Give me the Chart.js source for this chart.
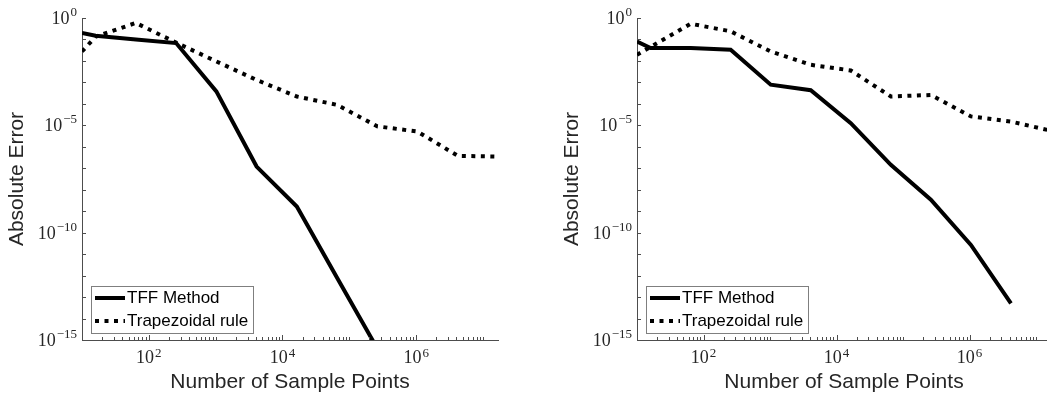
<!DOCTYPE html>
<html>
<head>
<meta charset="utf-8">
<script src="https://cdn.jsdelivr.net/npm/chart.js@4.4.0/dist/chart.umd.min.js"></script>
<style>
  html, body { margin: 0; padding: 0; background: #fff; overflow: hidden; width: 1047px; height: 399px; }
  .plot { position: absolute; top: 0; width: 520px; height: 399px; }
</style>
</head>
<body>
<div class="plot" style="left:0"><canvas id="leftChart" width="520" height="399"></canvas></div>
<div class="plot" style="left:555px"><canvas id="rightChart" width="520" height="399"></canvas></div>
<script>
// sample counts (powers of four) shared by both panels
const samplePoints = [10, 16, 64, 256, 1024, 4096, 16384, 65536, 262144, 1048576, 4194304, 16777216];
const seriesNames = ["TFF Method", "Trapezoidal rule"];

// left panel errors
const leftTFF = [0.2, 0.148, 0.1, 0.068, 3.8e-4, 1.2e-7, 1.66e-9, 8e-13, 4e-16];
const leftTrap = [0.0275, 0.135, 0.59, 0.071, 9.5e-3, 1.3e-3, 2.2e-4, 9e-5, 9e-6, 5.1e-6, 3.8e-7, 3.5e-7];

// right panel errors
const rightTFF = [0.081, 0.04, 0.04, 0.033, 7.8e-4, 4.3e-4, 1.26e-5, 1.45e-7, 3.4e-9, 2.7e-11, 5.1e-14];
const rightTrap = [0.0195, 0.045, 0.54, 0.24, 0.0275, 6.6e-3, 3.6e-3, 2.2e-4, 2.6e-4, 2.6e-5, 1.5e-5, 5.6e-6];

// tick labels: base 10 with exponent
const xTickValues = [100, 1e4, 1e6];
const xTickExps = ["2", "4", "6"];
const yTickValues = [1e-15, 1e-10, 1e-5, 1];
const yTickExps = ["\u221215", "\u221210", "\u22125", "0"];

const axisColor = "#4d4d4d";
const textColor = "#262626";
const baseFont = "18px 'Liberation Serif', serif";
const expFont = "13px 'Liberation Serif', serif";

// inward tick marks like the original figure
const tickMarks = {
  id: "tickMarks",
  afterDraw(chart) {
    const c = chart.ctx, a = chart.chartArea;
    const xs = chart.scales.x, ys = chart.scales.y;
    c.save();
    c.strokeStyle = axisColor;
    c.lineWidth = 1;
    c.beginPath();
    for (let k = 1; k <= 7; k++) {
      for (let m = 1; m <= 9; m++) {
        const v = m * Math.pow(10, k);
        if (v <= xs.min || v > xs.max) continue;
        const px = Math.round(xs.getPixelForValue(v)) + 0.5;
        const len = xTickValues.includes(v) ? 5 : 3;
        c.moveTo(px, a.bottom);
        c.lineTo(px, a.bottom - len);
      }
    }
    for (let e = -15; e <= 0; e++) {
      const py = Math.round(ys.getPixelForValue(Math.pow(10, e))) + 0.5;
      c.moveTo(a.left, py);
      c.lineTo(a.left + 4, py);
    }
    c.stroke();
    c.restore();
  }
};

// 10^n labels with a raised exponent
const expLabels = {
  id: "expLabels",
  afterDraw(chart) {
    const c = chart.ctx, a = chart.chartArea;
    c.save();
    c.fillStyle = textColor;
    c.textBaseline = "alphabetic";
    c.textAlign = "left";
    c.font = baseFont;
    const bw = c.measureText("10").width;
    xTickValues.forEach((v, i) => {
      const px = chart.scales.x.getPixelForValue(v);
      c.font = expFont;
      const ew = c.measureText(xTickExps[i]).width;
      const x0 = px - (bw + ew + 1) / 2;
      c.font = baseFont;
      c.fillText("10", x0, a.bottom + 23);
      c.font = expFont;
      c.fillText(xTickExps[i], x0 + bw + 1, a.bottom + 17);
    });
    yTickValues.forEach((v, i) => {
      const py = chart.scales.y.getPixelForValue(v);
      c.font = expFont;
      const ew = c.measureText(yTickExps[i]).width;
      const x1 = a.left - 5;
      c.fillText(yTickExps[i], x1 - ew, py - 2);
      c.font = baseFont;
      c.fillText("10", x1 - ew - 1 - bw, py + 6);
    });
    c.restore();
  }
};

// boxed legend in lower left corner of plot area
const boxLegend = {
  id: "boxLegend",
  afterDraw(chart) {
    const c = chart.ctx, a = chart.chartArea;
    const sets = chart.data.datasets;
    const rowH = 23;
    c.save();
    c.font = "17px 'Liberation Sans', Arial, sans-serif";
    const textW = Math.max(...sets.map(d => c.measureText(d.label).width));
    const left = Math.round(a.left + 9);
    const w = Math.round(4 + 30 + 2 + textW + 5);
    const h = rowH * sets.length + 1;
    const top = Math.round(a.bottom - 7 - h);
    c.fillStyle = "#fff";
    c.fillRect(left, top, w, h);
    c.strokeStyle = "#7f7f7f";
    c.lineWidth = 1;
    c.strokeRect(left + 0.5, top + 0.5, w, h);
    sets.forEach((d, i) => {
      const y = top + 12 + i * rowH;
      c.strokeStyle = d.borderColor;
      c.lineWidth = d.borderWidth;
      c.lineCap = "butt";
      c.setLineDash(d.borderDash || []);
      c.beginPath();
      c.moveTo(left + 4, y);
      c.lineTo(left + 34, y);
      c.stroke();
      c.setLineDash([]);
      c.fillStyle = "#000";
      c.textBaseline = "middle";
      c.fillText(d.label, left + 36, y);
    });
    c.restore();
  }
};

function toPoints(vals) {
  return vals.map((v, i) => ({ x: samplePoints[i], y: v }));
}

function makeChart(id, tff, trap, rightPad) {
  return new Chart(document.getElementById(id), {
    type: "line",
    data: {
      datasets: [
        { label: seriesNames[0], data: toPoints(tff), borderColor: "#000", borderWidth: 4, pointRadius: 0, tension: 0 },
        { label: seriesNames[1], data: toPoints(trap), borderColor: "#000", borderWidth: 4, borderDash: [4, 5.5], borderCapStyle: "butt", pointRadius: 0, tension: 0 }
      ]
    },
    options: {
      responsive: false,
      animation: false,
      layout: { padding: { top: 18, right: rightPad, left: 0, bottom: 0 } },
      plugins: { legend: { display: false }, tooltip: { enabled: false } },
      scales: {
        x: {
          type: "logarithmic",
          min: 10,
          max: 16777216,
          grid: { display: false, drawTicks: false },
          border: { display: true, color: axisColor, width: 1 },
          afterFit: s => { s.height = 59; },
          ticks: { display: false },
          title: {
            display: true, text: "Number of Sample Points", color: textColor,
            font: { family: "'Liberation Sans', Arial, sans-serif", size: 21 },
            padding: { top: 0, bottom: 4 }
          }
        },
        y: {
          type: "logarithmic",
          min: 1e-15,
          max: 1,
          grid: { display: false, drawTicks: false },
          border: { display: true, color: axisColor, width: 1 },
          afterFit: s => { s.width = 82; },
          ticks: { display: false },
          title: {
            display: true, text: "Absolute Error", color: textColor,
            font: { family: "'Liberation Sans', Arial, sans-serif", size: 21 },
            padding: { top: 5, bottom: 0 }
          }
        }
      }
    },
    plugins: [tickMarks, expLabels, boxLegend]
  });
}

makeChart("leftChart", leftTFF, leftTrap, 22);
makeChart("rightChart", rightTFF, rightTrap, 24);
</script>
</body>
</html>
